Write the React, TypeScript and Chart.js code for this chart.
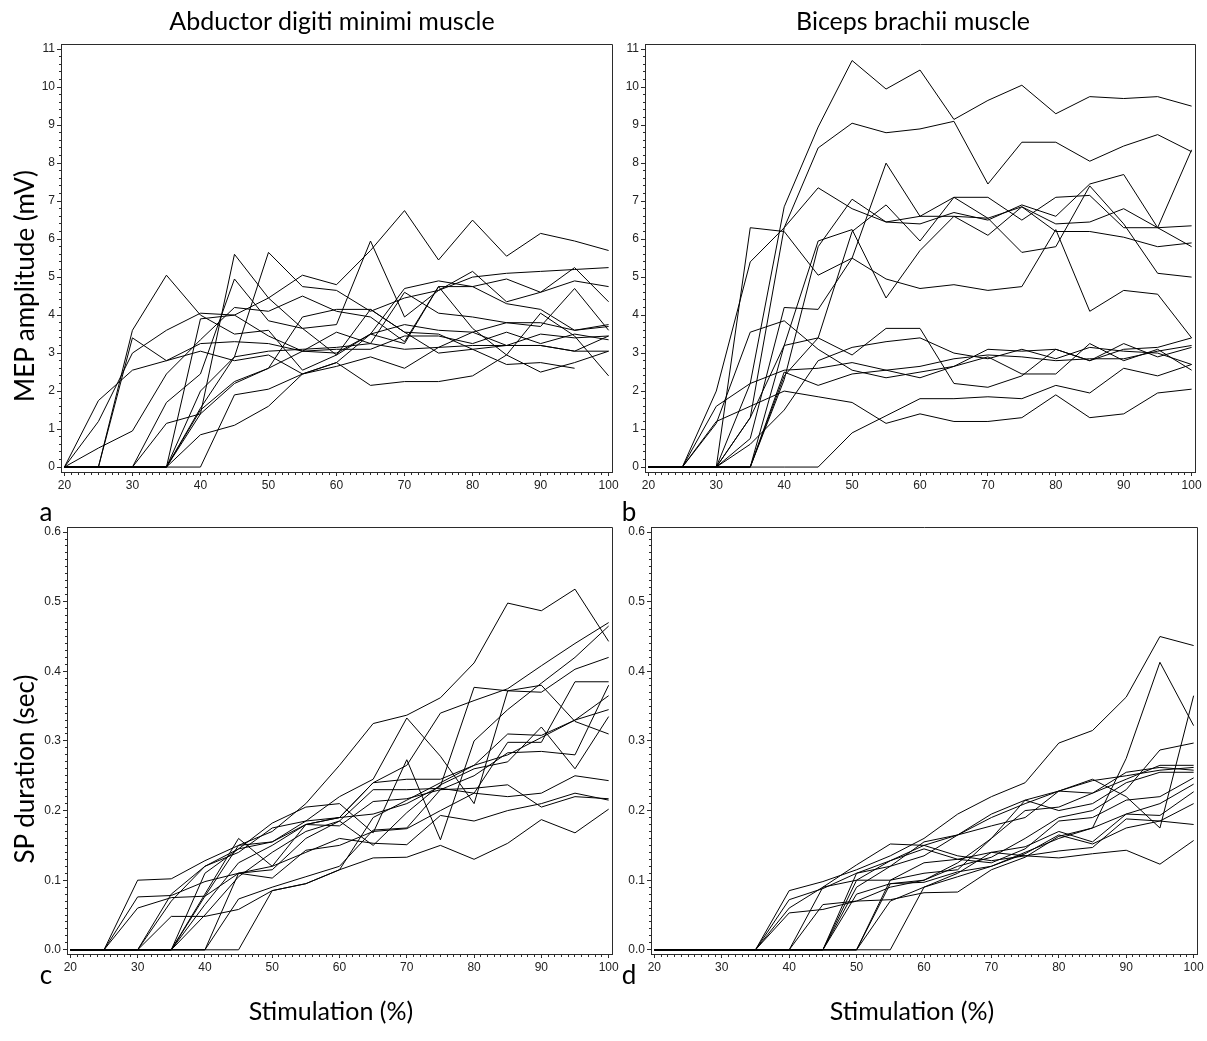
import React, { useEffect, useRef } from "react";
import { Chart, registerables } from "chart.js";
Chart.register(...registerables);

// ---------- data ----------
const stimulation = [20, 25, 30, 35, 40, 45, 50, 55, 60, 65, 70, 75, 80, 85, 90, 95, 100];
const xTickValues = [20, 30, 40, 50, 60, 70, 80, 90, 100];
const mepTickValues = [0, 1, 2, 3, 4, 5, 6, 7, 8, 9, 10, 11];
const spTickValues = [0, 0.1, 0.2, 0.3, 0.4, 0.5, 0.6];

const titleLeft = "Abductor digiti minimi muscle";
const titleRight = "Biceps brachii muscle";
const yLabelTop = "MEP amplitude (mV)";
const yLabelBottom = "SP duration (sec)";
const xLabel = "Stimulation (%)";
const panelLetters = ["a", "b", "c", "d"];

// Abductor digiti minimi, MEP amplitude (mV)
const admMepSeries: (number | null)[][] = [
  [0, 1.75, 2.55, 2.8, 3.25, 3.3, 3.25, 3.05, 3.1, 3.1, 3.45, 3.45, 3.25, 3.55, 3.25, 3.5, 3.35],
  [0, 1.2, 3.0, 3.6, 4.05, 4.0, 3.45, 3.05, 3.0, 3.5, 3.75, 3.6, 3.55, 3.8, 3.8, 3.6, 3.7],
  [0, 0.5, 0.95, 2.45, 3.35, 4.2, 4.1, 4.5, 4.1, 3.95, 3.3, 4.75, 3.65, 2.95, 4.05, 3.45, 2.4],
  [0, 0, 3.6, 5.05, 4.0, 3.5, 3.6, 2.55, 2.95, 4.15, 3.55, 3.5, 3.1, 2.7, 2.75, 2.6, null],
  [0, 0, 3.4, 2.8, 3.05, 2.8, 2.95, 2.45, 2.65, 2.9, 2.6, 3.15, 3.55, 3.2, 3.2, 3.05, 3.05],
  [0, 0, 0, 1.7, 2.45, 4.95, 3.85, 3.65, 3.75, 5.95, 3.95, 4.65, 5.15, 4.35, 4.6, 5.25, 4.35],
  [0, 0, 0, 1.15, 1.4, 2.2, 2.6, 3.95, 4.15, 4.15, 3.55, 3.0, 3.1, 3.2, 3.2, 3.05, 3.45],
  [0, 0, 0, 0, 2.0, 2.9, 3.05, 3.1, 3.15, 3.25, 3.1, 3.15, 3.2, 3.2, 3.5, 3.4, 3.45],
  [0, 0, 0, 0, 1.5, 2.25, 2.6, 3.05, 3.55, 3.25, 4.6, 4.05, 3.95, 3.8, 3.7, 4.7, 3.6],
  [0, 0, 0, 0, 1.4, 5.6, 4.45, 3.65, 2.95, 3.5, 3.25, 4.75, 4.75, 4.95, 4.6, 4.9, 4.75],
  [0, 0, 0, 0, 0.85, 1.1, 1.6, 2.45, 2.75, 2.15, 2.25, 2.25, 2.4, 2.95, 2.5, 2.75, 3.05],
  [0, 0, 0, 0, 0, 1.9, 2.05, 2.45, 2.75, 3.5, 4.7, 4.9, 4.75, 4.3, 4.15, 3.6, 3.75],
  [0, 0, 0, 0, 1.55, 2.9, 5.65, 4.75, 4.65, 4.1, 4.45, 4.65, 5.0, 5.1, 5.15, 5.2, 5.25],
  [0, 0, 0, 0, 3.9, 4.0, 4.45, 5.05, 4.8, 5.7, 6.75, 5.45, 6.5, 5.55, 6.15, 5.95, 5.7],
];

// Biceps brachii, MEP amplitude (mV)
const bbMepSeries: (number | null)[][] = [
  [0, 0, 0, 2.2, 6.85, 8.95, 10.7, 9.95, 10.45, 9.15, 9.65, 10.05, 9.3, 9.75, 9.7, 9.75, 9.5],
  [0, 0, 0, 1.3, 6.3, 8.4, 9.05, 8.8, 8.9, 9.1, 7.45, 8.55, 8.55, 8.05, 8.45, 8.75, 8.3],
  [0, 0, 0, 6.3, 6.2, 5.05, 5.5, 4.95, 4.7, 4.8, 4.65, 4.75, 6.25, 4.1, 4.65, 4.55, 3.4],
  [0, 0, 2.0, 5.4, 6.3, 7.35, 6.8, 6.45, 6.6, 6.6, 6.55, 6.85, 6.4, 6.45, 6.8, 6.3, 6.35],
  [0, 0, 0, 0.75, 4.2, 4.15, 5.5, 8.0, 6.6, 7.1, 7.1, 6.5, 7.1, 7.15, 6.3, 6.3, 8.35],
  [0, 0, 0, 0, 2.3, 5.8, 7.05, 6.45, 6.4, 6.7, 6.5, 6.9, 6.6, 7.45, 7.7, 6.3, 5.8],
  [0, 0, 0, 0, 3.2, 5.95, 6.25, 4.45, 5.7, 6.6, 6.1, 6.85, 6.2, 6.2, 6.05, 5.8, 5.9],
  [0, 0, 0, 0, 2.4, 3.4, 6.2, 6.9, 5.95, 7.1, 6.55, 5.65, 5.8, 7.4, 6.4, 5.1, 5.0],
  [0, 0, 1.15, 3.55, 3.85, 3.1, 2.55, 2.35, 2.5, 2.65, 3.1, 3.05, 3.1, 2.8, 3.25, 2.9, 3.15],
  [0, 0, 1.6, 2.2, 2.55, 2.6, 2.75, 2.55, 2.35, 2.65, 2.9, 2.45, 2.45, 3.25, 2.8, 3.1, 2.55],
  [0, 0, 0, 1.3, 3.2, 3.4, 2.95, 3.65, 3.65, 2.2, 2.1, 2.4, 3.1, 2.8, 3.1, 3.15, 3.4],
  [0, 0, 0, 0.6, 1.5, 2.8, 3.15, 3.3, 3.4, 3.0, 2.85, 3.1, 2.85, 3.15, 3.05, 3.0, 2.7],
  [0, 0, 1.2, 1.6, 2.0, 1.85, 1.7, 1.15, 1.4, 1.2, 1.2, 1.3, 1.9, 1.3, 1.4, 1.95, 2.05],
  [0, 0, 0, 0, 0, 0, 0.9, 1.35, 1.8, 1.8, 1.85, 1.8, 2.15, 1.95, 2.6, 2.4, 2.7],
  [0, 0, 0, 0, 2.5, 2.15, 2.45, 2.55, 2.65, 2.85, 2.95, 2.9, 2.8, 2.85, 2.85, 3.05, 3.2],
];

// Abductor digiti minimi, SP duration (sec)
const admSpSeries: (number | null)[][] = [
  [0, 0, 0.1, 0.102, 0.128, 0.15, 0.17, 0.21, 0.265, 0.325, 0.337, 0.362, 0.412, 0.498, 0.487, 0.518, 0.443],
  [0, 0, 0.076, 0.078, 0.098, 0.11, 0.103, 0.143, 0.15, 0.17, 0.174, 0.2, 0.225, 0.22, 0.225, 0.25, 0.243],
  [0, 0, 0.06, 0.075, 0.077, 0.11, 0.12, 0.14, 0.16, 0.153, 0.151, 0.193, 0.185, 0.2, 0.21, 0.225, 0.215],
  [0, 0, 0, 0.08, 0.12, 0.145, 0.155, 0.185, 0.19, 0.24, 0.245, 0.245, 0.265, 0.31, 0.308, 0.33, 0.345],
  [0, 0, 0, 0.048, 0.048, 0.058, 0.085, 0.095, 0.115, 0.132, 0.133, 0.15, 0.13, 0.153, 0.187, 0.168, 0.202],
  [0, 0, 0, 0.07, 0.12, 0.14, 0.175, 0.185, 0.22, 0.245, 0.333, 0.278, 0.21, 0.372, 0.38, 0.328, 0.31],
  [0, 0, 0, 0, 0.11, 0.145, 0.182, 0.205, 0.21, 0.168, 0.273, 0.158, 0.3, 0.345, 0.383, 0.42, 0.465],
  [0, 0, 0, 0, 0.08, 0.16, 0.12, 0.18, 0.19, 0.24, 0.265, 0.34, 0.358, 0.375, 0.408, 0.44, 0.47],
  [0, 0, 0, 0, 0.065, 0.125, 0.15, 0.18, 0.19, 0.195, 0.21, 0.235, 0.377, 0.372, 0.37, 0.403, 0.42],
  [0, 0, 0, 0, 0.05, 0.105, 0.14, 0.17, 0.185, 0.23, 0.23, 0.232, 0.225, 0.298, 0.298, 0.385, 0.385],
  [0, 0, 0, 0, 0.077, 0.15, 0.155, 0.18, 0.178, 0.213, 0.217, 0.23, 0.25, 0.283, 0.285, 0.28, 0.38],
  [0, 0, 0, 0, 0, 0.11, 0.115, 0.16, 0.185, 0.15, 0.197, 0.237, 0.26, 0.27, 0.32, 0.26, 0.335],
  [0, 0, 0, 0, 0, 0.073, 0.09, 0.105, 0.12, 0.172, 0.175, 0.23, 0.232, 0.237, 0.205, 0.22, 0.217],
  [0, 0, 0, 0, 0, 0, 0.085, 0.095, 0.115, 0.19, 0.215, 0.24, 0.265, 0.28, 0.305, 0.33, 0.365],
];

// Biceps brachii, SP duration (sec)
const bbSpSeries: (number | null)[][] = [
  [0, 0, 0, 0, 0.085, 0.098, 0.115, 0.135, 0.16, 0.195, 0.22, 0.24, 0.297, 0.315, 0.363, 0.45, 0.437],
  [0, 0, 0, 0, 0.072, 0.088, 0.11, 0.128, 0.15, 0.165, 0.195, 0.215, 0.228, 0.245, 0.22, 0.175, 0.365],
  [0, 0, 0, 0, 0.06, 0.09, 0.122, 0.152, 0.15, 0.135, 0.128, 0.135, 0.142, 0.147, 0.188, 0.185, 0.18],
  [0, 0, 0, 0, 0.053, 0.058, 0.07, 0.072, 0.082, 0.083, 0.115, 0.133, 0.163, 0.175, 0.195, 0.21, 0.238],
  [0, 0, 0, 0, 0, 0.065, 0.07, 0.09, 0.1, 0.125, 0.16, 0.2, 0.205, 0.225, 0.245, 0.265, 0.265],
  [0, 0, 0, 0, 0, 0.09, 0.1, 0.1, 0.125, 0.13, 0.14, 0.148, 0.17, 0.155, 0.195, 0.193, 0.227],
  [0, 0, 0, 0, 0, 0, 0.11, 0.12, 0.155, 0.165, 0.19, 0.21, 0.228, 0.225, 0.255, 0.262, 0.258],
  [0, 0, 0, 0, 0, 0, 0.1, 0.128, 0.145, 0.13, 0.125, 0.145, 0.185, 0.19, 0.215, 0.22, 0.247],
  [0, 0, 0, 0, 0, 0, 0.09, 0.12, 0.135, 0.165, 0.178, 0.19, 0.228, 0.243, 0.25, 0.258, 0.262],
  [0, 0, 0, 0, 0, 0, 0.08, 0.095, 0.1, 0.12, 0.133, 0.16, 0.19, 0.2, 0.23, 0.287, 0.297],
  [0, 0, 0, 0, 0, 0, 0, 0.1, 0.11, 0.115, 0.16, 0.215, 0.2, 0.21, 0.24, 0.255, 0.255],
  [0, 0, 0, 0, 0, 0, 0, 0.095, 0.097, 0.112, 0.12, 0.14, 0.16, 0.175, 0.275, 0.413, 0.322],
  [0, 0, 0, 0, 0, 0, 0, 0.07, 0.09, 0.11, 0.14, 0.135, 0.132, 0.138, 0.143, 0.123, 0.157],
  [0, 0, 0, 0, 0, 0, 0, 0, 0.09, 0.105, 0.12, 0.138, 0.165, 0.152, 0.175, 0.185, 0.21],
];

// ---------- styling ----------
const AXIS_COLOR = "#2b2b2b";
const TICK_FONT = "'Liberation Sans', Arial, sans-serif";
const LABEL_FONT = "Lato, 'Noto Sans', sans-serif";

type PanelSpec = {
  left: number;
  top: number;
  width: number;
  height: number;
  yWidth: number;
  xHeight: number;
  padTop: number;
  padRight: number;
  series: (number | null)[][];
  yMin: number;
  yMax: number;
  yTicks: number[];
  yMinorCount: number;
  yMajorStep: number;
  yDecimals: number;
};

const framePlugin = {
  id: "frameAndMinorTicks",
  afterDraw(chart: any, _args: any, opts: any) {
    const { ctx, chartArea, scales } = chart;
    const align = (v: number) => Math.round(v - 0.5) + 0.5;
    const L = align(chartArea.left);
    const R = align(chartArea.right);
    const T = align(chartArea.top);
    const B = align(chartArea.bottom);
    ctx.save();
    ctx.strokeStyle = AXIS_COLOR;
    ctx.lineWidth = 1;
    ctx.beginPath();
    ctx.rect(L, T, R - L, B - T);
    ctx.stroke();
    const xs = scales.x;
    ctx.beginPath();
    for (let v = 20; v <= 100; v++) {
      if (v % 10 === 0) continue;
      const px = align(xs.getPixelForValue(v));
      ctx.moveTo(px, B);
      ctx.lineTo(px, B + 2.5);
    }
    const ys = scales.y;
    const n = opts.count as number;
    const step = opts.step as number;
    const majors = opts.majors as number;
    for (let k = 0; k <= majors * n; k++) {
      if (k % n === 0) continue;
      const v = (k * step) / n;
      const py = align(ys.getPixelForValue(v));
      ctx.moveTo(L, py);
      ctx.lineTo(L - 2.5, py);
    }
    ctx.stroke();
    ctx.restore();
  },
};

function Panel({ spec }: { spec: PanelSpec }) {
  const ref = useRef<HTMLCanvasElement | null>(null);
  useEffect(() => {
    if (!ref.current) return;
    const s = spec;
    const chart = new Chart(ref.current, {
      type: "line",
      data: {
        datasets: s.series.map((row, i) => ({
          label: `Subject ${i + 1}`,
          data: stimulation.map((x, j) => ({ x, y: row[j] })),
          borderColor: "#000000",
          backgroundColor: "#000000",
          borderWidth: 1,
          pointRadius: 0,
          pointHoverRadius: 0,
          fill: false,
          tension: 0,
          spanGaps: false,
        })),
      },
      options: {
        animation: false,
        responsive: false,
        maintainAspectRatio: false,
        events: [],
        layout: { padding: { top: s.padTop, right: s.padRight, left: 0, bottom: 0 } },
        plugins: {
          legend: { display: false },
          tooltip: { enabled: false },
          title: { display: false },
          frameAndMinorTicks: {
            count: s.yMinorCount,
            step: s.yMajorStep,
            majors: s.yTicks.length - 1,
          },
        } as any,
        scales: {
          x: {
            type: "linear",
            min: 19.5,
            max: 100.5,
            afterBuildTicks: (scale: any) => {
              scale.ticks = xTickValues.map((v) => ({ value: v }));
            },
            afterFit: (scale: any) => {
              scale.height = s.xHeight;
            },
            ticks: {
              autoSkip: false,
              maxRotation: 0,
              padding: 2,
              color: "#222222",
              font: { family: TICK_FONT, size: 12 },
              callback: (v: any) => String(v),
            },
            grid: { drawOnChartArea: false, drawTicks: true, tickLength: 4, color: AXIS_COLOR, lineWidth: 1 },
            border: { display: true, color: AXIS_COLOR, width: 1 },
          },
          y: {
            type: "linear",
            min: s.yMin,
            max: s.yMax,
            afterBuildTicks: (scale: any) => {
              scale.ticks = s.yTicks.map((v) => ({ value: v }));
            },
            afterFit: (scale: any) => {
              scale.width = s.yWidth;
            },
            ticks: {
              autoSkip: false,
              padding: 2,
              color: "#222222",
              font: { family: TICK_FONT, size: 12 },
              callback: (v: any) => Number(v).toFixed(s.yDecimals),
            },
            grid: { drawOnChartArea: false, drawTicks: true, tickLength: 4, color: AXIS_COLOR, lineWidth: 1 },
            border: { display: true, color: AXIS_COLOR, width: 1 },
          },
        },
      } as any,
      plugins: [framePlugin],
    });
    return () => chart.destroy();
  }, []);
  return (
    <canvas
      ref={ref}
      width={spec.width}
      height={spec.height}
      style={{ position: "absolute", left: spec.left, top: spec.top, width: spec.width, height: spec.height }}
    />
  );
}

const panels: PanelSpec[] = [
  {
    left: 31, top: 35, width: 593, height: 459, yWidth: 30, xHeight: 22, padTop: 8, padRight: 12,
    series: admMepSeries, yMin: -0.13, yMax: 11.13, yTicks: mepTickValues, yMinorCount: 5, yMajorStep: 1, yDecimals: 0,
  },
  {
    left: 615, top: 35, width: 592, height: 459, yWidth: 30, xHeight: 22, padTop: 8, padRight: 12,
    series: bbMepSeries, yMin: -0.13, yMax: 11.13, yTicks: mepTickValues, yMinorCount: 5, yMajorStep: 1, yDecimals: 0,
  },
  {
    left: 31, top: 518, width: 593, height: 458, yWidth: 36, xHeight: 22, padTop: 8, padRight: 12,
    series: admSpSeries, yMin: -0.006, yMax: 0.607, yTicks: spTickValues, yMinorCount: 10, yMajorStep: 0.1, yDecimals: 1,
  },
  {
    left: 615, top: 518, width: 592, height: 458, yWidth: 36, xHeight: 22, padTop: 8, padRight: 10,
    series: bbSpSeries, yMin: -0.006, yMax: 0.607, yTicks: spTickValues, yMinorCount: 10, yMajorStep: 0.1, yDecimals: 1,
  },
];

export default function App() {
  const big = { fontFamily: LABEL_FONT, fontSize: 25, fill: "#000" } as const;
  const axisLbl = { fontFamily: LABEL_FONT, fontSize: 26, fill: "#000" } as const;
  return (
    <div style={{ position: "absolute", left: 0, top: 0, width: 1207, height: 1041, background: "#fff", overflow: "hidden" }}>
      {panels.map((p, i) => (
        <Panel key={i} spec={p} />
      ))}
      <svg
        width={1207}
        height={1041}
        style={{ position: "absolute", left: 0, top: 0, pointerEvents: "none" }}
      >
        <text x={332} y={30} textAnchor="middle" style={big}>{titleLeft}</text>
        <text x={913} y={30} textAnchor="middle" style={big}>{titleRight}</text>
        <text transform="translate(34,286) rotate(-90)" textAnchor="middle" style={axisLbl}>{yLabelTop}</text>
        <text transform="translate(34,769) rotate(-90)" textAnchor="middle" style={axisLbl}>{yLabelBottom}</text>
        <text x={46} y={521} textAnchor="middle" style={axisLbl}>{panelLetters[0]}</text>
        <text x={629} y={521} textAnchor="middle" style={axisLbl}>{panelLetters[1]}</text>
        <text x={46} y={984} textAnchor="middle" style={axisLbl}>{panelLetters[2]}</text>
        <text x={629} y={984} textAnchor="middle" style={axisLbl}>{panelLetters[3]}</text>
        <text x={331} y={1020} textAnchor="middle" style={big}>{xLabel}</text>
        <text x={912} y={1020} textAnchor="middle" style={big}>{xLabel}</text>
      </svg>
    </div>
  );
}
